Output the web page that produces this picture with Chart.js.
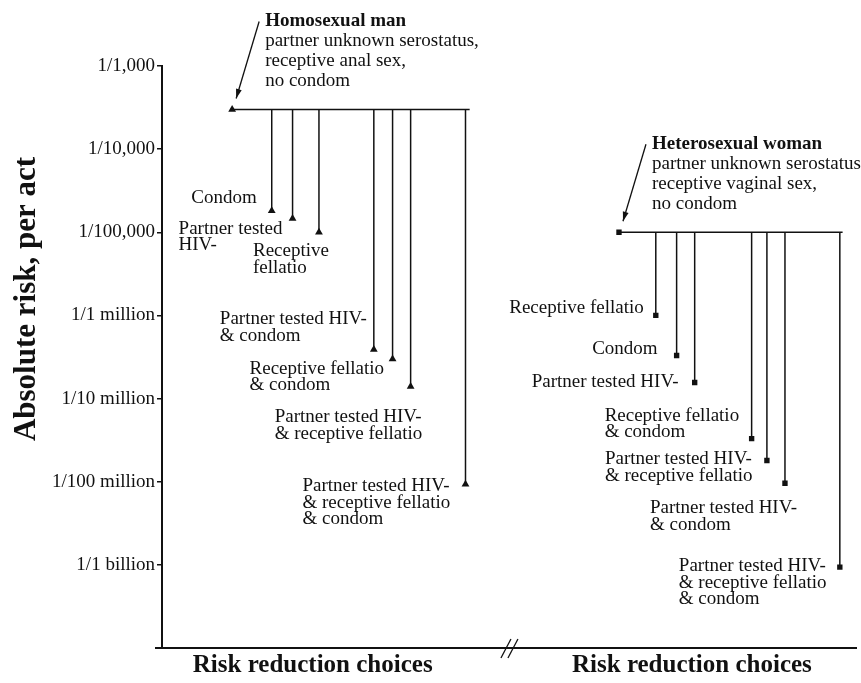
<!DOCTYPE html>
<html>
<head>
<meta charset="utf-8">
<script src="https://cdn.jsdelivr.net/npm/chart.js@4.4.1/dist/chart.umd.min.js"></script>
<style>
  body { margin:0; background:#fff; }
  #wrap { width:861px; height:683px; }
</style>
</head>
<body>
<div id="wrap"><canvas id="riskChart" width="861" height="683"></canvas></div>
<script>
// y axis ticks
const yTicks = [1e-3, 1e-4, 1e-5, 1e-6, 1e-7, 1e-8, 1e-9];
const yTickLabels = ['1/1,000', '1/10,000', '1/100,000', '1/1 million', '1/10 million', '1/100 million', '1/1 billion'];

// homosexual man
const manTitle = 'Homosexual man';
const manNote = ['partner unknown serostatus,', 'receptive anal sex,', 'no condom'];
const manBaseRisk = 3e-4;
const manBaseX = 1.01;
const manLineEnd = 4.43;
const manChoices = ['Condom', 'Partner tested\nHIV-', 'Receptive\nfellatio', 'Partner tested HIV-\n& condom',
  'Receptive fellatio\n& condom', 'Partner tested HIV-\n& receptive fellatio', 'Partner tested HIV-\n& receptive fellatio\n& condom'];
const manRisk = [1.82e-5, 1.46e-5, 1.0e-5, 3.9e-7, 3.0e-7, 1.4e-7, 9.3e-9];
const manX = [1.58, 1.88, 2.26, 3.05, 3.32, 3.58, 4.37];

// heterosexual woman
const womanTitle = 'Heterosexual woman';
const womanNote = ['partner unknown serostatus', 'receptive vaginal sex,', 'no condom'];
const womanBaseRisk = 1e-5;
const womanBaseX = 6.58;
const womanLineEnd = 9.80;
const womanChoices = ['Receptive fellatio', 'Condom', 'Partner tested HIV-', 'Receptive fellatio\n& condom',
  'Partner tested HIV-\n& receptive fellatio', 'Partner tested HIV-\n& condom', 'Partner tested HIV-\n& receptive fellatio\n& condom'];
const womanRisk = [1.0e-6, 3.3e-7, 1.56e-7, 3.3e-8, 1.8e-8, 9.6e-9, 9.4e-10];
const womanX = [7.11, 7.41, 7.67, 8.49, 8.71, 8.97, 9.76];

// x axis titles
const groupTitles = ['Risk reduction choices', 'Risk reduction choices'];
const groupCenters = [2.17, 7.63];
const axisBreakX = 5.01;

// label placement, relative to the marker: dx, dy, align
const manLabelPos = [[-15,-13,'right'],[-114,10,'left'],[-66,19,'left'],[-154,-30,'left'],[-143,10,'left'],[-136,31,'left'],[-163,2,'left']];
const womanLabelPos = [[-12,-7,'right'],[-19,-6,'right'],[-16,0,'right'],[-147,-23,'left'],[-162,-1,'left'],[-135,25,'left'],[-161,-1,'left']];

const serif = "'Liberation Serif', 'Times New Roman', serif";
const ink = '#111';

const groups = [
  { title:manTitle, note:manNote, base:manBaseRisk, baseX:manBaseX, end:manLineEnd, choices:manChoices, risk:manRisk, xs:manX, pos:manLabelPos, marker:'triangle', size:4.5 },
  { title:womanTitle, note:womanNote, base:womanBaseRisk, baseX:womanBaseX, end:womanLineEnd, choices:womanChoices, risk:womanRisk, xs:womanX, pos:womanLabelPos, marker:'rect', size:3.8 }
];

const datasets = [];
groups.forEach(g => {
  datasets.push({ data:[{x:g.baseX, y:g.base}, {x:g.end, y:g.base}], pointRadius:[g.size, 0], pointStyle:g.marker });
  g.choices.forEach((c, i) => {
    datasets.push({ data:[{x:g.xs[i], y:g.base}, {x:g.xs[i], y:g.risk[i]}], pointRadius:[0, g.size], pointStyle:g.marker });
  });
});
datasets.forEach(d => Object.assign(d, { showLine:true, borderColor:ink, backgroundColor:ink, borderWidth:1.5, pointBorderWidth:0 }));

const overlay = {
  id: 'overlay',
  afterDatasetsDraw(chart) {
    const { ctx, scales:{ x, y } } = chart;
    ctx.save();
    ctx.fillStyle = ink; ctx.strokeStyle = ink;
    ctx.textBaseline = 'middle';
    groups.forEach(g => {
      ctx.font = '19px ' + serif;
      g.choices.forEach((c, i) => {
        const px = x.getPixelForValue(g.xs[i]), py = y.getPixelForValue(g.risk[i]);
        const [dx, dy, align] = g.pos[i];
        ctx.textAlign = align;
        c.split('\n').forEach((line, k) => ctx.fillText(line, px + dx, py + dy + k * 16.5));
      });
      // note with arrow
      const bx = x.getPixelForValue(g.baseX), by = y.getPixelForValue(g.base);
      ctx.textAlign = 'left';
      ctx.font = 'bold 19px ' + serif;
      ctx.fillText(g.title, bx + 33, by - 88);
      ctx.font = '19px ' + serif;
      g.note.forEach((line, k) => ctx.fillText(line, bx + 33, by - 68 + k * 19.7));
      const tx = bx + 4, ty = by - 11, sx = bx + 27, sy = by - 88;
      ctx.lineWidth = 1.3;
      ctx.beginPath(); ctx.moveTo(sx, sy); ctx.lineTo(tx, ty); ctx.stroke();
      const a = Math.atan2(ty - sy, tx - sx);
      ctx.beginPath();
      ctx.moveTo(tx, ty);
      ctx.lineTo(tx - 10 * Math.cos(a - 0.3), ty - 10 * Math.sin(a - 0.3));
      ctx.lineTo(tx - 10 * Math.cos(a + 0.3), ty - 10 * Math.sin(a + 0.3));
      ctx.closePath(); ctx.fill();
    });
    // y title
    ctx.font = 'bold 31px ' + serif;
    ctx.textAlign = 'center';
    ctx.translate(27, 299); ctx.rotate(-Math.PI / 2);
    ctx.fillText('Absolute risk, per act', 0, 0);
    ctx.restore();
    // axis break and the short stub left of the y axis
    ctx.save();
    const bxp = x.getPixelForValue(axisBreakX), byp = chart.chartArea.bottom, left = chart.chartArea.left;
    ctx.strokeStyle = ink; ctx.lineWidth = 1.3;
    [-4, 3].forEach(o => { ctx.beginPath(); ctx.moveTo(bxp + o - 5, byp + 10); ctx.lineTo(bxp + o + 5, byp - 9); ctx.stroke(); });
    ctx.lineWidth = 2;
    ctx.beginPath(); ctx.moveTo(left - 7, byp); ctx.lineTo(left, byp); ctx.stroke();
    ctx.restore();
  }
};

new Chart(document.getElementById('riskChart'), {
  type: 'scatter',
  data: { datasets },
  plugins: [overlay],
  options: {
    responsive: false, animation: false,
    layout: { padding: { top: 66, right: 3, left: 0, bottom: 0 } },
    plugins: { legend: { display:false }, tooltip: { enabled:false } },
    scales: {
      x: {
        type: 'linear', min: 0, max: 10,
        afterBuildTicks: s => { s.ticks = groupCenters.map(v => ({ value:v })); },
        afterFit: s => { s.height = 35; },
        ticks: { callback: (v, i) => groupTitles[i], color: ink, padding: 3, maxRotation: 0, autoSkip: false,
          font: { family: serif, size: 25, weight: 'bold' } },
        grid: { display: true, drawOnChartArea: false, drawTicks: false },
        border: { color: ink, width: 2 }
      },
      y: {
        type: 'logarithmic', min: 1e-10, max: 1e-3,
        afterBuildTicks: s => { s.ticks = yTicks.map(v => ({ value:v })); },
        afterFit: s => { s.width = 162; },
        ticks: { callback: (v, i) => yTickLabels[i], color: ink, padding: 2, autoSkip: false,
          font: { family: serif, size: 19 } },
        grid: { drawOnChartArea: false, drawTicks: true, tickLength: 5, color: ink, lineWidth: 1.5 },
        border: { color: ink, width: 2 }
      }
    }
  }
});
</script>
</body>
</html>
